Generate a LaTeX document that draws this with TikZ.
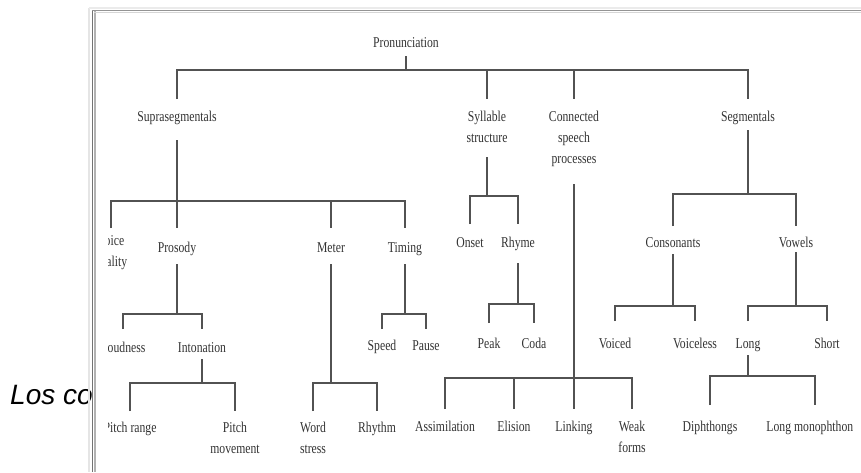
\documentclass[tikz,border=0pt]{standalone}
\usepackage{fontspec}
\setmainfont{Liberation Serif}
\newfontfamily\treefont[FakeStretch=0.78]{Liberation Serif}
\newfontfamily\losfont{Liberation Sans}
\begin{document}
\begin{tikzpicture}[x=1pt,y=-1pt,
  lbl/.style={anchor=north, inner sep=0pt, align=center, yshift=9.7pt, text=black!80,
              font={\treefont\fontsize{15}{21}\selectfont}},
  br/.style={draw=black!68, line width=1.3pt}]
\useasboundingbox (0,0) rectangle (861,472);
\fill[white] (0,0) rectangle (861,472);
% text behind the frame
\node[font={\losfont\itshape\fontsize{28}{30}\selectfont}, anchor=base west, inner sep=0pt] (los) at (10,404) {Los co};
% frame
\fill[white] (92,10) rectangle (861,472);
\draw[black!10, line width=2pt] (89,8) -- (89,472);
\draw[black!8, line width=2pt] (89,7.5) -- (861,7.5);
\draw[black!55, line width=1.8pt] (92.5,10) -- (92.5,472);
\draw[black!30, line width=1.5pt] (94.8,11) -- (94.8,472);
\draw[black!42, line width=1.1pt] (92,10.3) -- (861,10.3);
\draw[black!16, line width=1pt] (93.5,12) -- (861,12);
\begin{scope}
\clip (108,13) rectangle (852,472);
% nodes
\node[lbl] (pron) at (406,42) {\strut Pronunciation};
\node[lbl] (supra) at (177,116) {\strut Suprasegmentals};
\node[lbl] (syl) at (487,116) {\strut Syllable\\structure};
\node[lbl] (csp) at (574,116) {\strut Connected\\speech\\processes};
\node[lbl] (seg) at (748,116) {\strut Segmentals};
\node[lbl] (vq) at (111,240) {\strut Voice\\quality};
\node[lbl] (pros) at (177,247) {\strut Prosody};
\node[lbl] (meter) at (331,247) {\strut Meter};
\node[lbl] (timing) at (405,247) {\strut Timing};
\node[lbl] (loud) at (123,347) {\strut Loudness};
\node[lbl] (inton) at (202,347) {\strut Intonation};
\node[lbl] (pr) at (130,427) {\strut Pitch range};
\node[lbl] (pm) at (235,427) {\strut Pitch\\movement};
\node[lbl] (ws) at (313,427) {\strut Word\\stress};
\node[lbl] (rh) at (377,427) {\strut Rhythm};
\node[lbl] (speed) at (382,345) {\strut Speed};
\node[lbl] (pause) at (426,345) {\strut Pause};
\node[lbl] (onset) at (470,242) {\strut Onset};
\node[lbl] (rhyme) at (518,242) {\strut Rhyme};
\node[lbl] (peak) at (489,343) {\strut Peak};
\node[lbl] (coda) at (534,343) {\strut Coda};
\node[lbl] (assim) at (445,426) {\strut Assimilation};
\node[lbl] (elis) at (514,426) {\strut Elision};
\node[lbl] (link) at (574,426) {\strut Linking};
\node[lbl] (weak) at (632,426) {\strut Weak\\forms};
\node[lbl] (cons) at (673,242) {\strut Consonants};
\node[lbl] (vow) at (796,242) {\strut Vowels};
\node[lbl] (voiced) at (615,343) {\strut Voiced};
\node[lbl] (voiceless) at (695,343) {\strut Voiceless};
\node[lbl] (long) at (748,343) {\strut Long};
\node[lbl] (short) at (827,343) {\strut Short};
\node[lbl] (diph) at (710,426) {\strut Diphthongs};
\node[lbl] (lmono) at (815,426) {\strut Long monophthongs};
% level 0
\coordinate (b0) at (406,70);
\draw[br] (pron |- 0,56) -- (b0);
\draw[br] (supra |- 0,99) -- (supra |- b0) -- (seg |- b0) -- (seg |- 0,99);
\draw[br] (syl |- b0) -- (syl |- 0,99);
\draw[br] (csp |- b0) -- (csp |- 0,99);
% suprasegmentals
\coordinate (b1) at (177,201);
\draw[br] (supra |- 0,140) -- (b1);
\draw[br] (vq |- 0,228) -- (vq |- b1) -- (timing |- b1) -- (timing |- 0,228);
\draw[br] (pros |- b1) -- (pros |- 0,228);
\draw[br] (meter |- b1) -- (meter |- 0,228);
% prosody
\coordinate (b2) at (177,314);
\draw[br] (pros |- 0,264) -- (b2);
\draw[br] (loud |- 0,329) -- (loud |- b2) -- (inton |- b2) -- (inton |- 0,329);
% intonation
\coordinate (b3) at (202,383);
\draw[br] (inton |- 0,359) -- (b3);
\draw[br] (pr |- 0,411) -- (pr |- b3) -- (pm |- b3) -- (pm |- 0,411);
% meter
\coordinate (b4) at (331,383);
\draw[br] (meter |- 0,264) -- (b4);
\draw[br] (ws |- 0,411) -- (ws |- b4) -- (rh |- b4) -- (rh |- 0,411);
% timing
\coordinate (b5) at (405,314);
\draw[br] (timing |- 0,264) -- (b5);
\draw[br] (speed |- 0,329) -- (speed |- b5) -- (pause |- b5) -- (pause |- 0,329);
% syllable structure
\coordinate (b6) at (487,196);
\draw[br] (syl |- 0,157) -- (b6);
\draw[br] (onset |- 0,224) -- (onset |- b6) -- (rhyme |- b6) -- (rhyme |- 0,224);
% rhyme
\coordinate (b7) at (518,304);
\draw[br] (rhyme |- 0,263) -- (b7);
\draw[br] (peak |- 0,323) -- (peak |- b7) -- (coda |- b7) -- (coda |- 0,323);
% connected speech processes
\coordinate (b8) at (574,378);
\draw[br] (csp |- 0,184) -- (b8);
\draw[br] (assim |- 0,409) -- (assim |- b8) -- (weak |- b8) -- (weak |- 0,409);
\draw[br] (elis |- b8) -- (elis |- 0,409);
\draw[br] (link |- b8) -- (link |- 0,409);
% segmentals
\coordinate (b9) at (748,194);
\draw[br] (seg |- 0,130) -- (b9);
\draw[br] (cons |- 0,226) -- (cons |- b9) -- (vow |- b9) -- (vow |- 0,226);
% consonants
\coordinate (b10) at (673,306);
\draw[br] (cons |- 0,254) -- (b10);
\draw[br] (voiced |- 0,321) -- (voiced |- b10) -- (voiceless |- b10) -- (voiceless |- 0,321);
% vowels
\coordinate (b11) at (796,306);
\draw[br] (vow |- 0,252) -- (b11);
\draw[br] (long |- 0,321) -- (long |- b11) -- (short |- b11) -- (short |- 0,321);
% long
\coordinate (b12) at (748,376);
\draw[br] (long |- 0,355) -- (b12);
\draw[br] (diph |- 0,405) -- (diph |- b12) -- (lmono |- b12) -- (lmono |- 0,405);
\end{scope}
\end{tikzpicture}
\end{document}
